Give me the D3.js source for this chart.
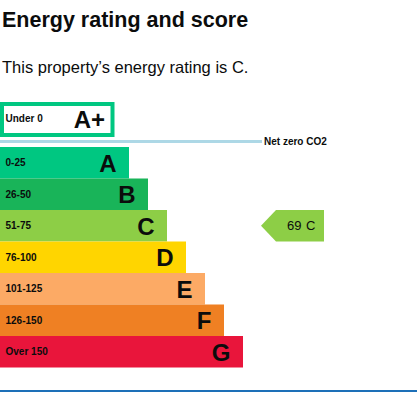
<!DOCTYPE html>
<html>
<head>
<meta charset="utf-8">
<script src="https://cdn.jsdelivr.net/npm/d3@7"></script>
<style>
  body { margin: 0; background: #fff; }
  svg text { font-family: "Liberation Sans", Arial, sans-serif; fill: #0b0c0c; }
</style>
</head>
<body>
<div id="chart"></div>
<script>
var ratings = ["A", "B", "C", "D", "E", "F", "G"];
var ranges = ["0-25", "26-50", "51-75", "76-100", "101-125", "126-150", "Over 150"];
var colors = ["#00c781", "#19b459", "#8dce46", "#ffd500", "#fcaa65", "#ef8023", "#e9153b"];
var topRating = "A+";
var topRange = "Under 0";
var currentScore = 69;
var currentRating = "C";
var title = "Energy rating and score";
var subtitle = "This property\u2019s energy rating is C.";

var width = 417, height = 398;

var svg = d3.select("#chart").append("svg")
    .attr("width", width)
    .attr("height", height);

// one band per rating, bars sit flush against each other
var yScale = d3.scaleBand()
  .domain(ratings)
  .range([147, 367.5])
  .padding(0);

// bar length grows one step per rating
var xScale = d3.scaleLinear()
  .domain([0, ratings.length - 1])
  .range([129, 243]);

svg.append("text")
  .attr("x", 2)
  .attr("y", 27)
  .style("font-size", "21.5px")
  .style("font-weight", "bold")
  .text(title);

svg.append("text")
  .attr("x", 2)
  .attr("y", 73)
  .style("font-size", "16.5px")
  .text(subtitle);

//A+ box above net zero line
svg.append("rect")
  .attr("x", 2)
  .attr("y", 104)
  .attr("width", 110.5)
  .attr("height", 31)
  .style("fill", "#fff")
  .style("stroke", colors[0])
  .style("stroke-width", 4);

svg.append("text")
  .attr("x", 5.5)
  .attr("y", 122)
  .style("font-size", "10px")
  .style("font-weight", "bold")
  .text(topRange);

svg.append("text")
  .attr("x", 105)
  .attr("y", 127.5)
  .attr("text-anchor", "end")
  .style("font-size", "24px")
  .style("font-weight", "bold")
  .text(topRating);

//Net zero line
svg.append("rect")
  .attr("x", 0)
  .attr("y", 140)
  .attr("width", 262)
  .attr("height", 3)
  .style("fill", "#add8e6");

svg.append("text")
  .attr("x", 264)
  .attr("y", 145)
  .style("font-size", "10px")
  .style("font-weight", "bold")
  .text("Net zero CO2");

var bands = svg.selectAll(".band")
  .data(ratings)
  .enter().append("g")
  .attr("class", "band")
  .attr("transform", function(d) { return "translate(0," + yScale(d) + ")"; });

bands.append("rect")
  .attr("x", 0)
  .attr("y", 0)
  .attr("width", function(d, i) { return xScale(i); })
  .attr("height", yScale.bandwidth())
  .style("fill", function(d, i) { return colors[i]; });

bands.append("text")
  .attr("x", 5.5)
  .attr("y", yScale.bandwidth() / 2 + 3.6)
  .style("font-size", "10px")
  .style("font-weight", "bold")
  .text(function(d, i) { return ranges[i]; });

bands.append("text")
  .attr("x", function(d, i) { return xScale(i) - 12.5; })
  .attr("y", yScale.bandwidth() / 2 + 8.8)
  .attr("text-anchor", "end")
  .style("font-size", "24px")
  .style("font-weight", "bold")
  .text(function(d) { return d; });

//Arrow with the current score
var arrowTop = yScale(currentRating),
    arrowH = yScale.bandwidth(),
    arrowTip = 261, arrowBase = 276, arrowEnd = 324;

var arrow = svg.append("g")
  .attr("class", "current");

arrow.append("polygon")
  .attr("points", [
      [arrowTip, arrowTop + arrowH / 2],
      [arrowBase, arrowTop],
      [arrowEnd, arrowTop],
      [arrowEnd, arrowTop + arrowH],
      [arrowBase, arrowTop + arrowH]
    ].map(function(p) { return p.join(","); }).join(" "))
  .style("fill", colors[ratings.indexOf(currentRating)]);

arrow.append("text")
  .attr("x", 287)
  .attr("y", arrowTop + arrowH / 2 + 4.7)
  .style("font-size", "13px")
  .text(currentScore);

arrow.append("text")
  .attr("x", 315.5)
  .attr("y", arrowTop + arrowH / 2 + 4.7)
  .attr("text-anchor", "end")
  .style("font-size", "13px")
  .text(currentRating);

//bottom rule
svg.append("rect")
  .attr("x", 0)
  .attr("y", 390)
  .attr("width", width)
  .attr("height", 2)
  .style("fill", "#1d70b8");
</script>
</body>
</html>
